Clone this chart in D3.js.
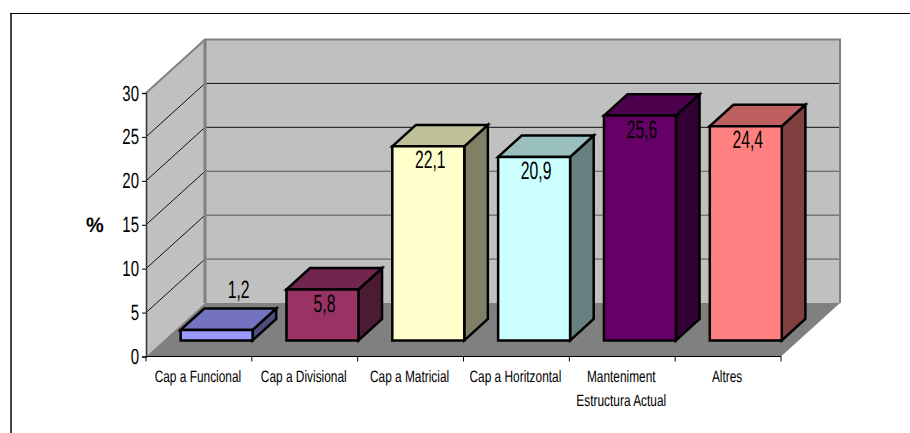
<!DOCTYPE html>
<html><head><meta charset="utf-8">
<style>html,body{margin:0;padding:0;background:#fff}svg{display:block}text{font-family:"Liberation Sans",Arial,sans-serif;fill:#000;text-rendering:geometricPrecision}</style>
<script src="https://cdnjs.cloudflare.com/ajax/libs/d3/7.8.5/d3.min.js"></script>
</head><body><svg id="c" width="910" height="433"></svg>
<script>
const categories = ["Cap a Funcional","Cap a Divisional","Cap a Matricial","Cap a Horitzontal","Manteniment|Estructura Actual","Altres"];
const values = [1.2,5.8,22.1,20.9,25.6,24.4];
const valueLabels = ["1,2","5,8","22,1","20,9","25,6","24,4"];
const barColors = ["#9999ff","#993366","#ffffcc","#ccffff","#660066","#ff8080"];
const yTicks = [0,5,10,15,20,25,30];

const svg = d3.select("#c");
const x = d3.scaleBand().domain(categories).range([146,781]).paddingInner(.32).paddingOuter(.16);
const y = d3.scaleLinear().domain([0,30]).range([356.5,93]);
const dx = d3.scaleLinear().domain([0,1]).range([0,59]);
const dy = d3.scaleLinear().domain([0,1]).range([0,-53.5]);
const pts = a => a.map(p=>p.join(",")).join(" ");
const poly = (g,a,fill,stroke,sw) => g.append("polygon").attr("points",pts(a)).attr("fill",fill).attr("stroke",stroke||"none").attr("stroke-width",sw||0).attr("stroke-linejoin","miter");
const squeeze = (g,tx,ty,s,sx,anchor,str,weight) => g.append("text").attr("transform",`translate(${tx},${ty}) scale(${sx},1)`).attr("text-anchor",anchor||"middle").attr("font-size",s).attr("font-weight",weight||"normal").text(str);

// frame
svg.append("line").attr("x1",11).attr("x2",11).attr("y1",13).attr("y2",433).attr("stroke","#444").attr("stroke-width",2);
svg.append("line").attr("x1",10).attr("x2",910).attr("y1",13.5).attr("y2",13.5).attr("stroke","#000");

// walls
const [xL,xR] = x.range(), y0 = y(0), yT = y(30), D = 1;
const walls = svg.append("g");
poly(walls,[[xL,yT],[xL+dx(D),yT+dy(D)],[xL+dx(D),y0+dy(D)],[xL,y0]],"#c0c0c0");
poly(walls,[[xL+dx(D),yT+dy(D)],[xR+dx(D),yT+dy(D)],[xR+dx(D),y0+dy(D)],[xL+dx(D),y0+dy(D)]],"#c0c0c0");
poly(walls,[[xL,y0],[xL+dx(D),y0+dy(D)],[xR+dx(D),y0+dy(D)],[xR,y0]],"#808080");

// gridlines
const grid = svg.append("g");
yTicks.filter(t=>t>0&&t<30).forEach(t=>{
  const col = t>=20 ? "#111" : "#555";
  grid.append("line").attr("x1",xL+dx(D)).attr("x2",xR+dx(D)).attr("y1",y(t)+dy(D)).attr("y2",y(t)+dy(D)).attr("stroke",col);
  grid.append("line").attr("x1",xL).attr("x2",xL+dx(D)).attr("y1",y(t)).attr("y2",y(t)+dy(D)).attr("stroke","#111");
});
// wall borders
svg.append("polyline").attr("fill","none").attr("stroke","#808080").attr("stroke-width",2)
  .attr("points",pts([[xL,yT],[xL+dx(D),yT+dy(D)],[xR+dx(D),yT+dy(D)],[xR+dx(D),y0+dy(D)]]));
svg.append("line").attr("x1",xL+dx(D)).attr("x2",xL+dx(D)).attr("y1",yT+dy(D)).attr("y2",y0+dy(D)).attr("stroke","#808080").attr("stroke-width",3);

// bars
const d1=.3,d2=.7;
const bars = svg.append("g");
categories.forEach((c,i)=>{
  const col=d3.color(barColors[i]);
  const shade=k=>d3.rgb(col.r*k,col.g*k,col.b*k).formatHex();
  const l=x(c)+dx(d1), r=l+x.bandwidth(), b=y0+dy(d1), h=y(0)-y(values[i]), t=b-h;
  const ox=dx(d2-d1), oy=dy(d2-d1);
  const g=bars.append("g");
  poly(g,[[r,t],[r+ox,t+oy],[r+ox,b+oy],[r,b]],shade(.5),"#000",2.5);
  poly(g,[[l,t],[l+ox,t+oy],[r+ox,t+oy],[r,t]],shade(.75),"#000",2.5);
  poly(g,[[l,t],[r,t],[r,b],[l,b]],barColors[i],"#000",2.5);
  const small = values[i] < 3;
  const lx = small ? l+x.bandwidth()/2+22 : l+x.bandwidth()/2+2;
  const ly = small ? t+oy-11 : t+22;
  squeeze(g,lx,ly,25,.63,"middle",valueLabels[i]);
});

// axes
const ya = svg.append("g").attr("transform",`translate(${xL},0)`).call(d3.axisLeft(y).tickValues(yTicks).tickSize(4).tickFormat(""));
ya.select(".domain").attr("stroke","#333").attr("stroke-width",1.5);
ya.selectAll(".tick line").attr("stroke","#000");
yTicks.forEach(t=>squeeze(svg,xL-7,y(t)+7.5,22,.68,"end",String(t)));

svg.append("line").attr("x1",xL).attr("x2",xR).attr("y1",y0).attr("y2",y0).attr("stroke","#000");
d3.range(categories.length+1).forEach(i=>{
  const tx=xL+i*x.step();
  svg.append("line").attr("x1",tx).attr("x2",tx).attr("y1",y0).attr("y2",y0+5).attr("stroke","#000");
});
categories.forEach(c=>{
  const cx=x(c)+x.bandwidth()/2;
  c.split("|").forEach((s,j)=>squeeze(svg,cx-1,381.5+j*24,16.5,.72,"middle",s));
});
squeeze(svg,95,232,21,.95,"middle","%","bold");
</script></body></html>
